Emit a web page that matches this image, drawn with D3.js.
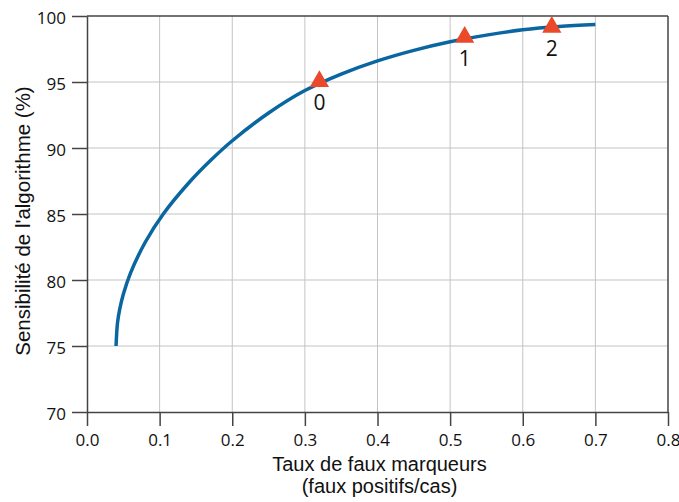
<!DOCTYPE html>
<html>
<head>
<meta charset="utf-8">
<script src="https://cdn.jsdelivr.net/npm/d3@7"></script>
<style>
  html, body { margin: 0; padding: 0; background: #fff; }
  svg { display: block; }
</style>
</head>
<body>
<div id="chart"></div>
<script>
// ---- Data ----
const curveX = [0.04, 0.042, 0.045, 0.05, 0.06, 0.08, 0.105, 0.14, 0.17, 0.2, 0.25, 0.3, 0.35, 0.4, 0.45, 0.5, 0.55, 0.6, 0.65, 0.7];
const curveY = [75, 76.75, 77.77, 78.92, 80.54, 82.84, 85.0, 87.35, 89.05, 90.55, 92.65, 94.35, 95.6, 96.6, 97.4, 98.05, 98.55, 98.95, 99.2, 99.35];
const markerLabels = ["0", "1", "2"];
const markerX = [0.32, 0.52, 0.64];
const markerY = [95.05, 98.4, 99.15];
const xTicks = [0.0, 0.1, 0.2, 0.3, 0.4, 0.5, 0.6, 0.7, 0.8];
const yTicks = [70, 75, 80, 85, 90, 95, 100];
const xTitle = ["Taux de faux marqueurs", "(faux positifs/cas)"];
const yTitle = "Sensibilité de l'algorithme (%)";

// ---- Layout ----
const W = 679, H = 502;
const margin = { left: 87, top: 16, right: 11, bottom: 90 };
const iw = W - margin.left - margin.right;
const ih = H - margin.top - margin.bottom;

const svg = d3.select("#chart").append("svg").attr("width", W).attr("height", H);
const g = svg.append("g").attr("transform", `translate(${margin.left},${margin.top})`);

const x = d3.scaleLinear().domain([0, 0.8]).range([0, iw]);
const y = d3.scaleLinear().domain([70, 100]).range([ih, 0]);

const tickFont = "'Open Sans', sans-serif";
const titleFont = "'Liberation Sans', Arial, sans-serif";

// grid
g.append("g").selectAll("line").data(xTicks.slice(1, -1)).join("line")
  .attr("x1", d => x(d)).attr("x2", d => x(d)).attr("y1", 0).attr("y2", ih)
  .attr("stroke", "#c4c4c4").attr("stroke-width", 1);
g.append("g").selectAll("line").data(yTicks.slice(1, -1)).join("line")
  .attr("x1", 0).attr("x2", iw).attr("y1", d => y(d)).attr("y2", d => y(d))
  .attr("stroke", "#c4c4c4").attr("stroke-width", 1);

// border top/right
g.append("line").attr("x1", 0).attr("x2", iw).attr("y1", 0).attr("y2", 0)
  .attr("stroke", "#444").attr("stroke-width", 1.5);
g.append("line").attr("x1", iw).attr("x2", iw).attr("y1", 0).attr("y2", ih)
  .attr("stroke", "#444").attr("stroke-width", 1.5);

// axes
const xAxis = g.append("g").attr("transform", `translate(0,${ih})`)
  .call(d3.axisBottom(x).tickValues(xTicks).tickFormat(d3.format(".1f")).tickSize(14).tickSizeOuter(0));
const yAxis = g.append("g")
  .call(d3.axisLeft(y).tickValues(yTicks).tickFormat(d3.format("d")).tickSize(15).tickSizeOuter(0));
[xAxis, yAxis].forEach(a => {
  a.select(".domain").attr("stroke", "#444").attr("stroke-width", 1.5);
  a.selectAll(".tick line").attr("stroke", "#444").attr("stroke-width", 1.5);
  a.selectAll(".tick text").attr("font-family", tickFont).attr("font-size", 17).attr("fill", "#111");
});
xAxis.selectAll(".tick text").attr("y", 22).attr("dy", "0.71em");
yAxis.selectAll(".tick text").attr("x", -21).attr("dy", "0.42em");

// curve
const pts = curveX.map((d, i) => [d, curveY[i]]);
g.append("path").datum(pts)
  .attr("d", d3.line().x(d => x(d[0])).y(d => y(d[1])).curve(d3.curveCatmullRom.alpha(0.5)))
  .attr("fill", "none").attr("stroke", "#0a66a0").attr("stroke-width", 3.5);

// markers
const mk = g.append("g").selectAll("g").data(markerLabels.map((l, i) => ({ l, x: markerX[i], y: markerY[i] }))).join("g")
  .attr("transform", d => `translate(${x(d.x)},${y(d.y)})`);
mk.append("path").attr("d", d3.symbol(d3.symbolTriangle, 160)()).attr("fill", "#ea4a2a");
mk.append("text").text(d => d.l).attr("y", 29).attr("text-anchor", "middle")
  .attr("font-family", tickFont).attr("font-size", 21).attr("fill", "#111");

// titles
svg.append("text").attr("x", margin.left + iw / 2 + 2).attr("y", 471).attr("text-anchor", "middle")
  .attr("font-family", titleFont).attr("font-size", 20).attr("fill", "#111").text(xTitle[0]);
svg.append("text").attr("x", margin.left + iw / 2 + 2).attr("y", 493).attr("text-anchor", "middle")
  .attr("font-family", titleFont).attr("font-size", 20).attr("fill", "#111").text(xTitle[1]);
svg.append("text").attr("transform", `translate(30,${margin.top + ih / 2 + 7}) rotate(-90)`)
  .attr("text-anchor", "middle")
  .attr("font-family", titleFont).attr("font-size", 20.5).attr("fill", "#111").text(yTitle);
</script>
</body>
</html>
